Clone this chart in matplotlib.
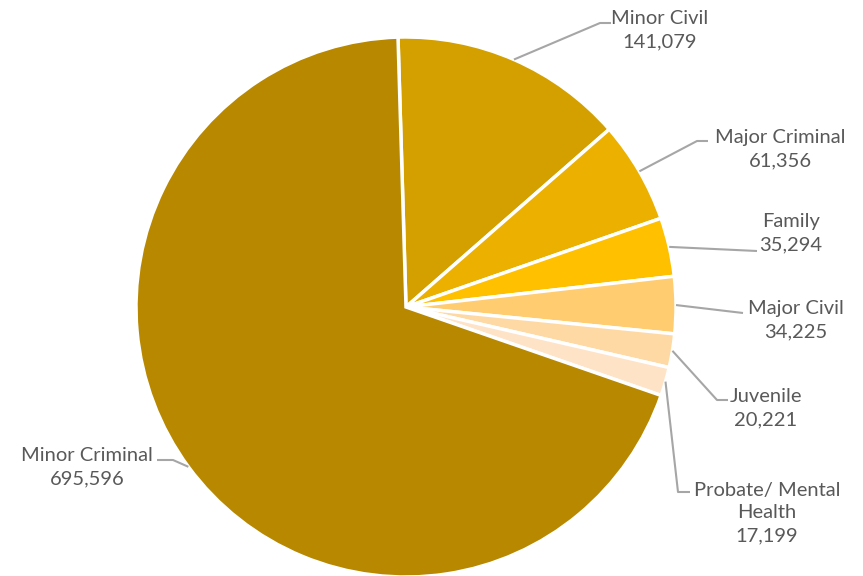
import numpy as np
import matplotlib.pyplot as plt

categories = ["Minor Civil", "Major Criminal", "Family", "Major Civil", "Juvenile",
              "Probate/ Mental\nHealth", "Minor Criminal"]
values = [141079, 61356, 35294, 34225, 20221, 17199, 695596]
colors = ["#D4A000", "#EBB000", "#FFC000", "#FFCC70", "#FFD9A3", "#FFE3C6", "#B78800"]

W, H = 863, 576
fig = plt.figure(figsize=(W / 100, H / 100), dpi=100)
ax = fig.add_axes([0, 0, 1, 1])

cx, cy, R = 406, H - 307, 270
start = 90 + 1.7
wedges, _ = ax.pie(values, colors=colors, startangle=start, counterclock=False,
                   center=(cx, cy), radius=R, frame=True,
                   wedgeprops=dict(edgecolor="white", linewidth=2.5))
ax.set_xlim(0, W)
ax.set_ylim(0, H)
ax.set_aspect("equal")
ax.axis("off")

# label layout: (text center x, text center y in px), elbow points in px
layout = [
    ((660, 30), [(600, 23), (611, 23)]),
    ((780, 149), [(697, 141), (708, 141)]),
    ((791, 233), [(757, 251)]),
    ((796, 320), [(743, 313)]),
    ((766, 408), [(717, 400), (728, 400)]),
    ((767, 513), [(678, 492), (690, 492)]),
    ((87, 467), [(173, 460), (157, 460)]),
]

lc = "#A6A6A6"
tc = "#595959"
for w, v, cat, (tpos, elbows) in zip(wedges, values, categories, layout):
    mid = np.deg2rad((w.theta1 + w.theta2) / 2)
    ax_x = cx + R * np.cos(mid)
    ax_y = cy + R * np.sin(mid)
    xs = [ax_x] + [e[0] for e in elbows]
    ys = [ax_y] + [H - e[1] for e in elbows]
    ax.plot(xs, ys, color=lc, lw=1.5, solid_capstyle="butt")
    ax.text(tpos[0], H - tpos[1], f"{cat}\n{v:,}", ha="center", va="center",
            fontsize=14.5, color=tc, family=["Lato", "DejaVu Sans"], linespacing=1.42)

fig.savefig("out.png", dpi=100)
